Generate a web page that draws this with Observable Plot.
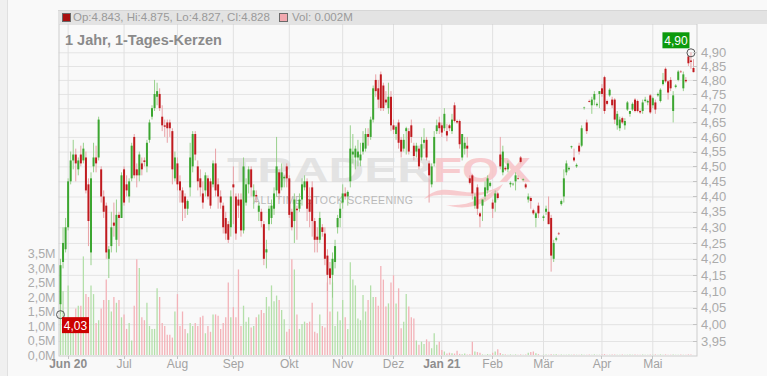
<!DOCTYPE html>
<html>
<head>
<meta charset="utf-8">
<script src="https://cdn.jsdelivr.net/npm/d3@7"></script>
<script src="https://cdn.jsdelivr.net/npm/@observablehq/plot@0.6"></script>
<style>
  html, body { margin: 0; padding: 0; background: #f9f9f9; }
  #wrap { position: relative; width: 767px; height: 376px; overflow: hidden; background: #f9f9f9;
          font-family: "Liberation Sans", Arial, Helvetica, sans-serif; }
  #wrap > svg { position: absolute; left: 0; top: 0; }
  #edge { position: absolute; left: 0; top: 0; width: 7px; height: 376px; background: #f0f0f0; border-right: 1px solid #e0e0e0; }
  #legend { position: absolute; left: 58px; top: 10px; width: 709px; height: 14px; background: #e3e3e3;
            border-top: 1px solid #d6d6d6; box-sizing: border-box; font-size: 11.5px; color: #9a9a9a;
            line-height: 13px; white-space: nowrap; }
  #legend span { position: absolute; top: 0; }
  #legend .sw { top: 2px; width: 7px; height: 7px; border: 1px solid #6a6a6a; }
  #title { position: absolute; left: 65px; top: 31.5px; font-size: 14.5px; font-weight: bold; color: #8a8a8a; }
</style>
</head>
<body>
<div id="wrap">
  <div id="edge"></div>
  <div id="legend">
    <span class="sw" style="left:4px;background:#a80f0f"></span>
    <span id="ohlc" style="left:15px"></span>
    <span class="sw" style="left:221px;background:#f2a9b0"></span>
    <span id="vol" style="left:234px"></span>
  </div>
  <div id="title">1 Jahr, 1-Tages-Kerzen</div>
</div>
<script>
// Daily candles, one entry per trading day (null = no trade that day)
const open = [
  4.06, 4.19, 4.23, 4.30, 4.45, 4.52, 4.54, 4.49, 4.54, 4.52,
  4.53, 4.44, 4.22, 4.50, 4.53, 4.53, 4.49, 4.40, 4.37, 4.20,
  4.24, 4.315, 4.26, 4.34, 4.33, 4.49, 4.44, 4.40, 4.46, 4.60,
  4.49, 4.47, 4.51, 4.52, 4.50, 4.59, 4.67, 4.70, 4.74, 4.75,
  4.67, 4.64, 4.65, 4.65, 4.62, 4.46, 4.51, 4.45, 4.42, 4.40,
  4.36, 4.43, 4.50, 4.61, 4.50, 4.46, 4.41, 4.42, 4.46, 4.45,
  4.44, 4.51, 4.44, 4.40, 4.37, 4.33, 4.31, 4.30, 4.44, 4.40,
  4.39, 4.39, 4.29, 4.38, 4.44, 4.49, 4.40, 4.405, 4.35, 4.35,
  4.31, 4.22, 4.31, 4.33, 4.36, 4.42, 4.48, 4.43, 4.46, 4.50,
  4.46, 4.35, 4.32, 4.36, 4.36, 4.39, 4.43, 4.45, 4.39, 4.43,
  4.32, 4.27, 4.26, 4.30, 4.28, 4.21, 4.17, 4.15, 4.19, 4.30,
  4.33, 4.38, 4.41, 4.40, 4.45, 4.54, 4.53, 4.53, 4.52, 4.55,
  4.56, 4.61, 4.60, 4.66, 4.80, 4.77, 4.82, 4.78, 4.73, 4.70,
  4.74, 4.64, 4.61, 4.65, 4.59, 4.56, 4.62, 4.62, 4.64, 4.57,
  4.55, 4.56, 4.53, 4.58, 4.59, 4.51, 4.44, 4.51, 4.62, 4.65,
  4.64, 4.63, 4.62, 4.64, 4.62, 4.71, 4.655, 4.655, 4.53, 4.56,
  4.57, 4.46, 4.47, 4.37, 4.43, 4.345, 4.37, 4.40, 4.42, 4.435,
  4.38, 4.38, 4.41, 4.54, 4.48, 4.495, 4.49, 4.44, 4.44, 4.45,
  4.46, 4.53, 4.455, 4.44, 4.39, 4.395, 4.355, 4.33, 4.37, null,
  4.33, 4.35, 4.35, 4.33, 4.20, 4.26, 4.28, 4.375, 4.40, 4.48,
  4.49, 4.565, 4.53, 4.50, 4.57, 4.57, 4.70, 4.65, 4.725, 4.71,
  4.73, 4.71, 4.75, 4.77, 4.81, 4.725, 4.745, 4.73, 4.73, 4.64,
  4.63, 4.665, 4.64, 4.695, 4.68, 4.695, 4.73, 4.725, 4.69, 4.69,
  4.725, 4.72, 4.745, 4.71, 4.72, 4.745, 4.725, 4.785, 4.84, 4.795,
  4.80, 4.69, 4.775, 4.80, 4.83, 4.77, 4.80, 4.885, 4.87, 4.843
];
const high = [
  4.20, 4.30, 4.33, 4.46, 4.55, 4.59, 4.56, 4.53, 4.57, 4.58,
  4.55, 4.46, 4.48, 4.58, 4.57, 4.67, 4.50, 4.42, 4.38, 4.24,
  4.35, 4.38, 4.39, 4.35, 4.48, 4.50, 4.47, 4.46, 4.58, 4.61,
  4.51, 4.55, 4.53, 4.53, 4.59, 4.66, 4.71, 4.80, 4.79, 4.77,
  4.71, 4.66, 4.66, 4.66, 4.63, 4.55, 4.53, 4.47, 4.43, 4.41,
  4.39, 4.58, 4.62, 4.62, 4.52, 4.49, 4.45, 4.48, 4.47, 4.46,
  4.52, 4.56, 4.46, 4.42, 4.38, 4.35, 4.32, 4.42, 4.50, 4.41,
  4.41, 4.41, 4.53, 4.46, 4.50, 4.50, 4.44, 4.42, 4.38, 4.36,
  4.32, 4.26, 4.37, 4.39, 4.43, 4.60, 4.49, 4.51, 4.47, 4.51,
  4.47, 4.36, 4.41, 4.37, 4.41, 4.46, 4.47, 4.46, 4.43, 4.45,
  4.33, 4.30, 4.35, 4.31, 4.30, 4.23, 4.19, 4.22, 4.26, 4.34,
  4.38, 4.44, 4.43, 4.42, 4.64, 4.61, 4.57, 4.59, 4.58, 4.62,
  4.63, 4.63, 4.67, 4.78, 4.82, 4.80, 4.83, 4.79, 4.76, 4.79,
  4.76, 4.66, 4.64, 4.66, 4.60, 4.61, 4.635, 4.63, 4.66, 4.58,
  4.58, 4.57, 4.60, 4.63, 4.60, 4.52, 4.51, 4.62, 4.66, 4.67,
  4.65, 4.70, 4.645, 4.645, 4.68, 4.72, 4.66, 4.66, 4.61, 4.60,
  4.60, 4.47, 4.475, 4.41, 4.44, 4.35, 4.39, 4.45, 4.47, 4.45,
  4.39, 4.42, 4.415, 4.60, 4.57, 4.50, 4.52, 4.45, 4.445, 4.48,
  4.47, 4.535, 4.46, 4.445, 4.41, 4.40, 4.36, 4.35, 4.38, null,
  4.34, 4.37, 4.40, 4.34, 4.26, 4.27, 4.285, 4.39, 4.49, 4.52,
  4.50, 4.57, 4.56, 4.51, 4.58, 4.64, 4.705, 4.66, 4.73, 4.74,
  4.76, 4.72, 4.76, 4.785, 4.815, 4.73, 4.77, 4.74, 4.735, 4.69,
  4.67, 4.67, 4.665, 4.725, 4.69, 4.72, 4.735, 4.73, 4.695, 4.73,
  4.74, 4.73, 4.75, 4.74, 4.73, 4.755, 4.77, 4.825, 4.845, 4.80,
  4.81, 4.76, 4.785, 4.835, 4.835, 4.83, 4.81, 4.89, 4.90, 4.875
];
const low = [
  4.03, 4.17, 4.22, 4.29, 4.44, 4.49, 4.45, 4.47, 4.50, 4.51,
  4.41, 4.24, 4.18, 4.48, 4.48, 4.52, 4.38, 4.33, 4.20, 4.14,
  4.22, 4.27, 4.22, 4.24, 4.33, 4.37, 4.40, 4.38, 4.45, 4.46,
  4.43, 4.45, 4.47, 4.50, 4.48, 4.58, 4.66, 4.69, 4.71, 4.69,
  4.62, 4.60, 4.58, 4.60, 4.44, 4.45, 4.42, 4.38, 4.32, 4.33,
  4.34, 4.40, 4.48, 4.52, 4.42, 4.40, 4.36, 4.40, 4.39, 4.36,
  4.43, 4.40, 4.36, 4.36, 4.28, 4.26, 4.25, 4.27, 4.31, 4.26,
  4.33, 4.27, 4.28, 4.37, 4.41, 4.40, 4.36, 4.38, 4.32, 4.30,
  4.18, 4.17, 4.29, 4.31, 4.34, 4.40, 4.39, 4.42, 4.43, 4.43,
  4.33, 4.29, 4.25, 4.26, 4.35, 4.37, 4.42, 4.32, 4.30, 4.27,
  4.22, 4.22, 4.25, 4.27, 4.18, 4.10, 4.12, 4.08, 4.17, 4.28,
  4.30, 4.36, 4.39, 4.37, 4.43, 4.51, 4.49, 4.50, 4.50, 4.54,
  4.55, 4.57, 4.59, 4.65, 4.74, 4.70, 4.69, 4.69, 4.71, 4.68,
  4.62, 4.61, 4.59, 4.56, 4.53, 4.55, 4.54, 4.54, 4.58, 4.52,
  4.53, 4.49, 4.52, 4.56, 4.52, 4.38, 4.43, 4.50, 4.61, 4.61,
  4.60, 4.62, 4.585, 4.62, 4.61, 4.65, 4.645, 4.56, 4.52, 4.54,
  4.53, 4.44, 4.39, 4.36, 4.34, 4.30, 4.32, 4.39, 4.41, 4.43,
  4.33, 4.35, 4.39, 4.49, 4.47, 4.485, 4.48, 4.43, 4.435, 4.42,
  4.455, 4.51, 4.45, 4.425, 4.38, 4.36, 4.34, 4.30, 4.33, null,
  4.32, 4.34, 4.31, 4.16, 4.19, 4.255, 4.275, 4.37, 4.38, 4.47,
  4.485, 4.56, 4.515, 4.495, 4.54, 4.565, 4.695, 4.61, 4.72, 4.68,
  4.71, 4.705, 4.70, 4.74, 4.68, 4.71, 4.74, 4.70, 4.645, 4.625,
  4.62, 4.645, 4.625, 4.69, 4.67, 4.69, 4.685, 4.685, 4.68, 4.68,
  4.72, 4.71, 4.68, 4.70, 4.68, 4.74, 4.72, 4.78, 4.79, 4.73,
  4.76, 4.65, 4.77, 4.795, 4.825, 4.76, 4.79, 4.85, 4.84, 4.827
];
const close = [
  4.18, 4.25, 4.30, 4.45, 4.52, 4.54, 4.51, 4.52, 4.51, 4.56,
  4.42, 4.32, 4.46, 4.53, 4.51, 4.66, 4.40, 4.35, 4.22, 4.23,
  4.30, 4.305, 4.34, 4.33, 4.47, 4.38, 4.42, 4.45, 4.57, 4.47,
  4.47, 4.54, 4.49, 4.515, 4.58, 4.65, 4.70, 4.75, 4.76, 4.70,
  4.64, 4.635, 4.63, 4.63, 4.49, 4.53, 4.44, 4.42, 4.38, 4.36,
  4.385, 4.53, 4.61, 4.54, 4.45, 4.43, 4.38, 4.47, 4.40, 4.37,
  4.51, 4.42, 4.40, 4.38, 4.30, 4.28, 4.26, 4.40, 4.43, 4.28,
  4.37, 4.29, 4.50, 4.44, 4.49, 4.43, 4.42, 4.40, 4.37, 4.32,
  4.20, 4.23, 4.36, 4.37, 4.41, 4.50, 4.41, 4.48, 4.465, 4.46,
  4.34, 4.30, 4.39, 4.355, 4.39, 4.44, 4.45, 4.36, 4.35, 4.32,
  4.26, 4.26, 4.33, 4.285, 4.20, 4.15, 4.14, 4.20, 4.24, 4.33,
  4.36, 4.41, 4.40, 4.415, 4.56, 4.55, 4.56, 4.55, 4.54, 4.58,
  4.61, 4.60, 4.66, 4.77, 4.76, 4.73, 4.70, 4.70, 4.72, 4.74,
  4.64, 4.625, 4.635, 4.58, 4.55, 4.59, 4.63, 4.55, 4.60, 4.535,
  4.57, 4.50, 4.575, 4.59, 4.53, 4.47, 4.50, 4.60, 4.64, 4.63,
  4.615, 4.68, 4.605, 4.63, 4.66, 4.655, 4.65, 4.575, 4.61, 4.58,
  4.56, 4.445, 4.41, 4.40, 4.36, 4.335, 4.39, 4.43, 4.46, 4.445,
  4.36, 4.41, 4.395, 4.50, 4.55, 4.49, 4.51, 4.445, 4.442, 4.47,
  4.458, 4.515, 4.457, 4.43, 4.40, 4.385, 4.345, 4.345, 4.345, null,
  4.335, 4.36, 4.31, 4.21, 4.25, 4.265, 4.278, 4.385, 4.46, 4.51,
  4.495, 4.568, 4.52, 4.505, 4.55, 4.63, 4.702, 4.62, 4.722, 4.73,
  4.75, 4.715, 4.76, 4.75, 4.69, 4.715, 4.765, 4.71, 4.66, 4.68,
  4.66, 4.65, 4.655, 4.72, 4.69, 4.715, 4.69, 4.69, 4.685, 4.72,
  4.73, 4.725, 4.685, 4.735, 4.695, 4.75, 4.765, 4.80, 4.795, 4.755,
  4.77, 4.745, 4.78, 4.83, 4.828, 4.82, 4.795, 4.86, 4.865, 4.828
];
// Daily volume in millions of shares
const volume = [
  1.8, 2.2, 1.2, 2.4, 0.8, 1.1, 1.6, 1.7, 1.7, 3.4,
  2.1, 2.0, 2.4, 2.1, 1.1, 1.2, 1.6, 1.9, 2.6, 1.9,
  1.5, 2.0, 1.8, 1.9, 1.3, 1.4, 0.9, 1.1, 0.5, 1.7,
  3.3, 3.0, 1.3, 1.2, 1.8, 1.0, 0.9, 0.9, 2.3, 2.0,
  1.1, 1.0, 0.7, 0.7, 0.6, 1.5, 2.1, 1.0, 1.5, 0.9,
  0.75, 1.1, 1.0, 1.1, 1.0, 1.3, 1.35, 0.75, 1.0, 0.8,
  1.4, 1.4, 1.35, 0.9, 1.1, 1.3, 2.5, 1.3, 1.65, 1.3,
  2.95, 1.0, 1.7, 1.15, 1.3, 0.95, 1.0, 1.3, 1.4, 1.55,
  1.45, 2.0, 1.67, 2.4, 1.85, 2.05, 1.9, 1.55, 1.23, 0.8,
  0.9, 3.3, 2.95, 1.4, 0.9, 1.07, 1.15, 1.1, 1.15, 1.8,
  0.8, 0.75, 1.4, 1.0, 0.95, 2.5, 1.5, 2.5, 1.0, 1.5,
  1.2, 1.9, 1.3, 0.9, 3.2, 2.6, 2.4, 1.26, 1.2, 2.07,
  1.5, 1.9, 2.4, 2.0, 2.0, 1.7, 3.07, 2.6, 1.67, 1.78,
  2.5, 2.75, 1.78, 2.3, 0.92, 1.15, 2.1, 1.67, 1.3, 1.26,
  0.5, 0.35, 0.46, 0.38, 0.54, 0.46, 0.23, 0.75, 0.35, 0.46,
  0.17, 0.12, 0.05, 0.08, 0.06, 0.05, 0.15, 0.04, 0.03, 0.05,
  0.02, 0.03, 0.46, 0.12, 0.1, 0.08, 0.02, 0.01, 0.03, 0.02,
  0.08, 0.12, 0.2, 0.07, 0.03, 0.02, 0.01, 0.02, 0.01, 0.02,
  0.01, 0.02, 0.01, 0.02, 0.08, 0.1, 0.12, 0.06, 0.03, null,
  0.01, 0.02, 0.01, 0.03, 0.02, 0.03, 0.01, 0.02, 0.01, 0.01,
  0.02, 0.01, 0.02, 0.01, 0.01, 0.02, 0.01, 0.01, 0.02, 0.01,
  0.02, 0.01, 0.01, 0.02, 0.03, 0.01, 0.01, 0.02, 0.02, 0.01,
  0.01, 0.02, 0.01, 0.01, 0.02, 0.01, 0.02, 0.01, 0.01, 0.02,
  0.01, 0.01, 0.02, 0.01, 0.02, 0.01, 0.02, 0.01, 0.02, 0.01,
  0.01, 0.02, 0.01, 0.01, 0.02, 0.01, 0.01, 0.02, 0.02, 0.002
];
// First trading day of each month (index into the arrays above) and its label
const monthIndex = [3, 25, 46, 68, 90, 111, 131, 150, 170, 190, 213, 233];
const monthLabel = ["Jun 20", "Jul", "Aug", "Sep", "Okt", "Nov", "Dez", "Jan 21", "Feb", "Mär", "Apr", "Mai"];
const yearStart = ["Jun 20", "Jan 21"];
const priceTicks = [3.95, 4.00, 4.05, 4.10, 4.15, 4.20, 4.25, 4.30, 4.35, 4.40,
                    4.45, 4.50, 4.55, 4.60, 4.65, 4.70, 4.75, 4.80, 4.85, 4.90];
const volTicks = [0, 0.5, 1.0, 1.5, 2.0, 2.5, 3.0, 3.5];

const N = open.length;
const rows = [];
for (let i = 0; i < N; ++i) {
  if (open[i] == null) continue;
  rows.push({i, o: open[i], h: high[i], l: low[i], c: close[i], v: volume[i]});
}
const isUp = d => d.c >= d.o;
const isDown = d => d.c < d.o;
const months = monthIndex.map((i, k) => ({i, label: monthLabel[k], bold: yearStart.includes(monthLabel[k])}));
const hiRow = rows.reduce((a, b) => (b.h > a.h ? b : a));
const loRow = rows.reduce((a, b) => (b.l < a.l ? b : a));
const comma = (v, n) => v.toFixed(n).replace(".", ",");

const font = "'Liberation Sans', Arial, Helvetica, sans-serif";
const base = {
  width: 767, height: 376,
  marginLeft: 58.5, marginRight: 70.5, marginTop: 23.5, marginBottom: 20.5
};
const style = size => ({background: "transparent", fontFamily: font, fontSize: size, color: "#ababab", overflow: "visible"});
const xOpts = {type: "linear", domain: [0, N - 1], range: [60, 693], axis: null};
const yPrice = {type: "log", domain: [3.95, 4.90], range: [341, 52.3]};

// bottom layer: price grid and frame
const gridLayer = Plot.plot({
  ...base, style: style("12px"),
  x: xOpts,
  y: {...yPrice, axis: null},
  marks: [
    Plot.ruleY(priceTicks, {stroke: "#e4e4e4"}),
    Plot.ruleX(monthIndex, {stroke: "#e1e1e1"}),
    Plot.frame({stroke: "#cdcdcd"})
  ]
});

// middle layer: volume bars on the left axis
const volLayer = Plot.plot({
  ...base, style: style("12.5px"),
  x: xOpts,
  y: {domain: [0, 3.5], range: [355, 253.5], axis: "left", ticks: volTicks,
      tickFormat: v => comma(v, 1) + "M", tickSize: 0, tickPadding: 3.5, label: null},
  marks: [
    Plot.ruleX(rows, {filter: isUp, x: "i", y1: 0, y2: "v", stroke: "#b3dfa9", strokeWidth: 1.3}),
    Plot.ruleX(rows, {filter: isDown, x: "i", y1: 0, y2: "v", stroke: "#f3b2b8", strokeWidth: 1.3})
  ]
});

// top layer: candles, price axis, month labels
const priceLayer = Plot.plot({
  ...base, style: style("13px"),
  x: xOpts,
  y: {...yPrice, axis: "right", ticks: priceTicks, tickFormat: v => comma(v, 2),
      tickSize: 0, tickPadding: 4, label: null},
  marks: [
    Plot.ruleX(rows, {filter: isUp, x: "i", y1: "l", y2: "h", stroke: "#98d08c", strokeWidth: 1}),
    Plot.ruleX(rows, {filter: isDown, x: "i", y1: "l", y2: "h", stroke: "#e8a1a6", strokeWidth: 1}),
    Plot.ruleX(rows, {filter: isUp, x: "i", y1: "o", y2: "c", stroke: "#3ca631", strokeWidth: 2}),
    Plot.ruleX(rows, {filter: isDown, x: "i", y1: "o", y2: "c", stroke: "#c01a1f", strokeWidth: 2}),
    Plot.text(months.filter(d => !d.bold), {x: "i", text: "label", frameAnchor: "bottom", dy: 12, fontSize: 12, fill: "#a3a3a3"}),
    Plot.text(months.filter(d => d.bold), {x: "i", text: "label", frameAnchor: "bottom", dy: 12, fontSize: 12, fill: "#8e8e8e", fontWeight: "bold"}),
    Plot.dot([hiRow], {x: "i", y: "h", r: 4, stroke: "#555", fill: "none", strokeWidth: 1}),
    Plot.dot([loRow], {x: "i", y: "l", r: 4, stroke: "#555", fill: "none", strokeWidth: 1})
  ]
});

const wrap = document.getElementById("wrap");
const legend = document.getElementById("legend");
wrap.insertBefore(gridLayer, legend);
wrap.insertBefore(volLayer, legend);
wrap.insertBefore(priceLayer, legend);

const sx = priceLayer.scale("x"), sy = priceLayer.scale("y");
const svg = d3.select(priceLayer);

// TraderFox logo behind the candles
const wm = svg.insert("g", ":first-child").attr("font-family", font).attr("text-anchor", "start");
wm.append("text").attr("x", 227).attr("y", 182).attr("textLength", 206).attr("lengthAdjust", "spacingAndGlyphs")
  .attr("font-size", 35).attr("font-weight", 700).attr("fill", "#dcdcdc").attr("fill-opacity", 0.75).text("TRADER");
wm.append("path").attr("fill", "#f7c3c7").attr("fill-opacity", 0.85)
  .attr("d", "M424,199 C446,176 470,206 503,184 C492,204 468,212 446,205 C470,207 486,196 494,190 C470,204 446,188 424,199 Z");
wm.append("text").attr("x", 433).attr("y", 182).attr("textLength", 98).attr("lengthAdjust", "spacingAndGlyphs")
  .attr("font-size", 35).attr("font-weight", 700).attr("fill", "#f7c3c7").attr("fill-opacity", 0.85).text("FOX");
wm.append("text").attr("x", 253).attr("y", 204).attr("textLength", 160).attr("lengthAdjust", "spacing")
  .attr("font-size", 10.5).attr("fill", "#b9b9b9").text("ALL TIME STOCK SCREENING");

// short inward ticks on the price axis and month ticks under the volume baseline
const ticks = svg.append("g").attr("stroke", "#c4c4c4").attr("shape-rendering", "crispEdges");
const xRight = base.width - base.marginRight;
const yBottom = base.height - base.marginBottom;
for (const p of priceTicks) {
  const y = Math.round(sy.apply(p)) + 0.5;
  ticks.append("line").attr("x1", xRight - 4).attr("x2", xRight).attr("y1", y).attr("y2", y);
}
for (const i of monthIndex) {
  const x = Math.round(sx.apply(i)) + 0.5;
  ticks.append("line").attr("x1", x).attr("x2", x).attr("y1", yBottom).attr("y2", yBottom + 3);
}

// value badges next to the extreme markers
function badge(row, value, fill, dx, dy) {
  const cx = sx.apply(row.i), cy = sy.apply(value);
  const g = svg.append("g");
  g.append("rect").attr("x", cx + dx).attr("y", cy + dy).attr("width", 27).attr("height", 16).attr("fill", fill);
  g.append("text").attr("x", cx + dx + 13.5).attr("y", cy + dy + 12.5).attr("text-anchor", "middle")
    .attr("fill", "#fff").attr("font-size", 12).attr("font-family", font).text(comma(value, 2));
}
badge(hiRow, hiRow.h, "#0c9a0c", -28, -20);
badge(loRow, loRow.l, "#cc0000", 2, 3);

// legend shows the latest candle
const last = rows[rows.length - 1];
document.getElementById("ohlc").textContent =
  `Op:${last.o.toFixed(3)}, Hi:${last.h.toFixed(3)}, Lo:${last.l.toFixed(3)}, Cl:${last.c.toFixed(3)}`;
document.getElementById("vol").textContent = `Vol: ${last.v.toFixed(3)}M`;
</script>
</body>
</html>
